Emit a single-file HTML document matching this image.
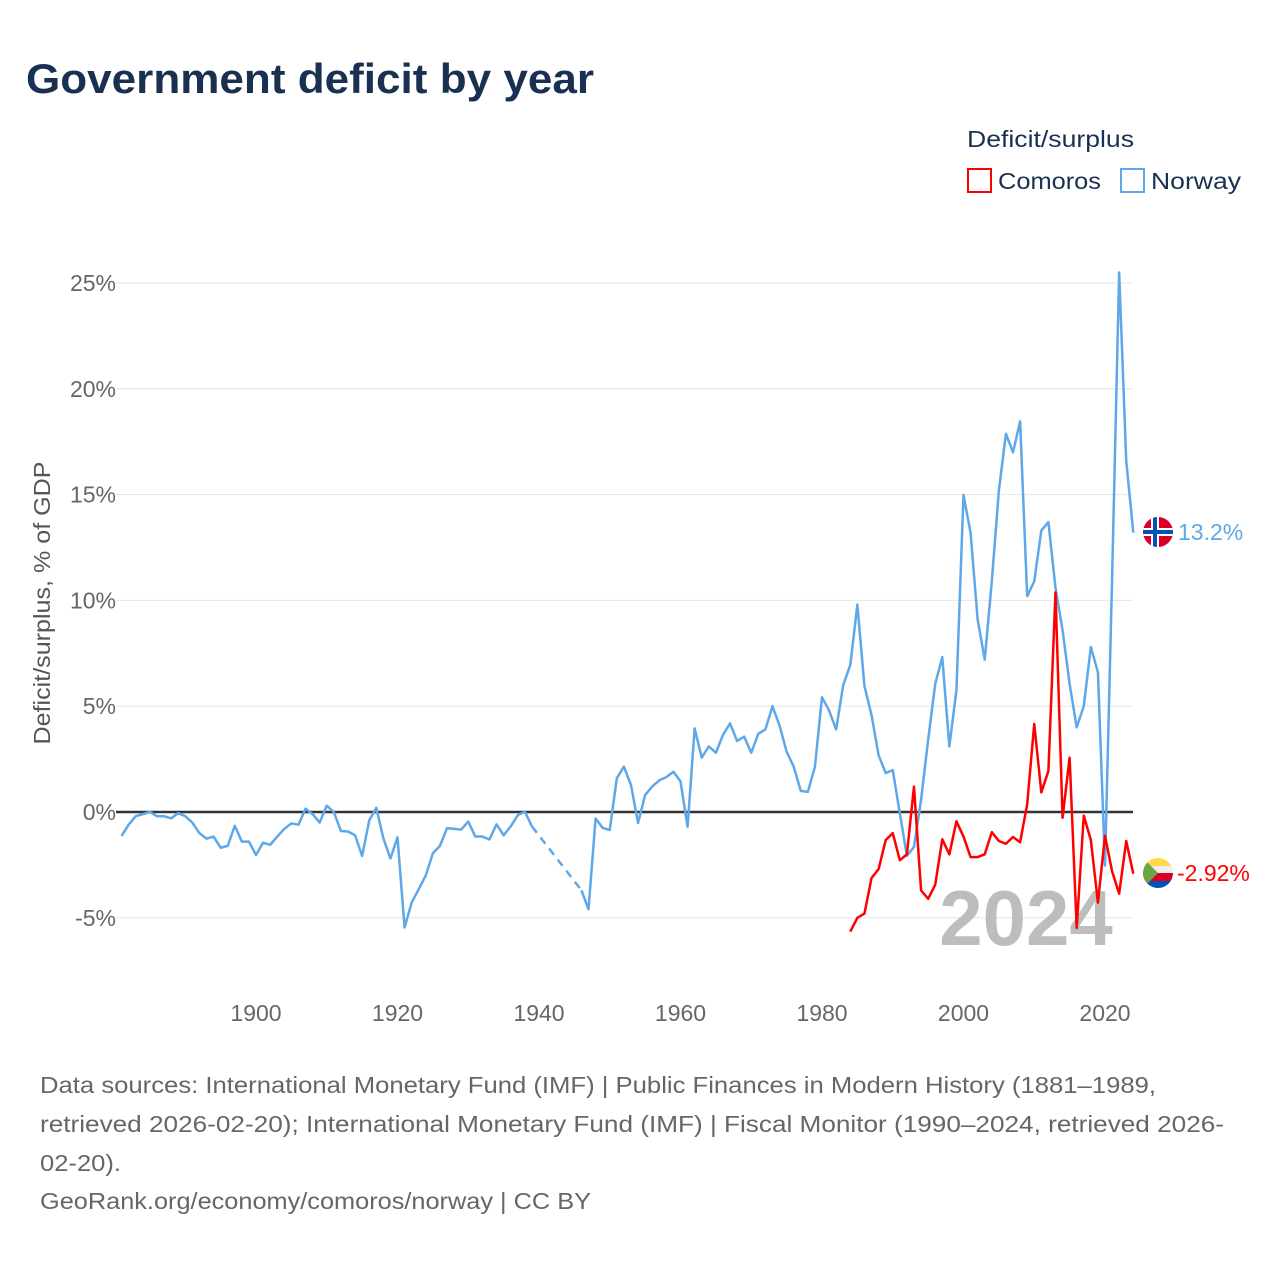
<!DOCTYPE html>
<html><head><meta charset="utf-8"><style>
body{margin:0;background:#fff;}
svg{display:block;font-family:"Liberation Sans",sans-serif;}
</style></head><body>
<svg id="chart" width="1280" height="1280" viewBox="0 0 1280 1280">
<text x="26" y="93" font-size="42" font-weight="bold" fill="#1a3050" textLength="568" lengthAdjust="spacingAndGlyphs">Government deficit by year</text>
<g>
<text x="967" y="147" font-size="23" fill="#1a3050" textLength="167" lengthAdjust="spacingAndGlyphs">Deficit/surplus</text>
<g><rect x="968" y="169" width="23" height="23" fill="none" stroke="#f00" stroke-width="2"/><text x="998" y="189" font-size="23" fill="#1a3050" textLength="103" lengthAdjust="spacingAndGlyphs">Comoros</text></g>
<g><rect x="1121" y="169" width="23" height="23" fill="none" stroke="#5ea8ea" stroke-width="2"/><text x="1151" y="189" font-size="23" fill="#1a3050" textLength="90" lengthAdjust="spacingAndGlyphs">Norway</text></g>
</g>
<g id="grid"></g>
<g id="yticks"></g>
<g id="xticks"></g>
<text transform="translate(50,603) rotate(-90)" text-anchor="middle" font-size="23" fill="#555" textLength="283" lengthAdjust="spacingAndGlyphs">Deficit/surplus, % of GDP</text>
<text x="1026" y="945" text-anchor="middle" font-size="78" font-weight="bold" fill="#bdbdbd">2024</text>
<g id="series"></g>
<g>
<clipPath id="cn"><circle cx="1158" cy="532" r="15"/></clipPath>
<g clip-path="url(#cn)"><rect x="1143" y="517" width="30" height="30" fill="#d80027"/><rect x="1143" y="528" width="30" height="8" fill="#fff"/><rect x="1151" y="517" width="8" height="30" fill="#fff"/><rect x="1143" y="530" width="30" height="4" fill="#0052b4"/><rect x="1153" y="517" width="4" height="30" fill="#0052b4"/></g>
<text x="1178" y="540" font-size="23" fill="#5ea8ea">13.2%</text>
</g>
<g>
<clipPath id="cc"><circle cx="1158" cy="873" r="15"/></clipPath>
<g clip-path="url(#cc)"><rect x="1143" y="858" width="30" height="8" fill="#ffda44"/><rect x="1143" y="866" width="30" height="7" fill="#eee"/><rect x="1143" y="873" width="30" height="8" fill="#d80027"/><rect x="1143" y="881" width="30" height="8" fill="#0052b4"/><polygon points="1143,858 1158,873 1143,888" fill="#6da544"/></g>
<text x="1177" y="881" font-size="23" fill="#f00">-2.92%</text>
</g>
<g font-size="23" fill="#666">
<text x="40" y="1093" textLength="1116" lengthAdjust="spacingAndGlyphs">Data sources: International Monetary Fund (IMF) | Public Finances in Modern History (1881–1989,</text>
<text x="40" y="1132" textLength="1184" lengthAdjust="spacingAndGlyphs">retrieved 2026-02-20); International Monetary Fund (IMF) | Fiscal Monitor (1990–2024, retrieved 2026-</text>
<text x="40" y="1171" textLength="81" lengthAdjust="spacingAndGlyphs">02-20).</text>
<text x="40" y="1209" textLength="551" lengthAdjust="spacingAndGlyphs">GeoRank.org/economy/comoros/norway | CC BY</text>
</g>
</svg>
<script>
const yTicks=[-5,0,5,10,15,20,25];
const xTicks=[1900,1920,1940,1960,1980,2000,2020];
const norwayYears=[];for(let y=1881;y<=2024;y++)norwayYears.push(y);
const norwayValues=[-1.13,-0.6,-0.2,-0.1,0,-0.2,-0.2,-0.3,-0.05,-0.2,-0.5,-1.0,-1.26,-1.16,-1.69,-1.6,-0.65,-1.4,-1.4,
-2.03,-1.45,-1.55,-1.16,-0.8,-0.54,-0.6,0.16,-0.1,-0.5,0.3,0,-0.9,-0.92,-1.1,-2.08,-0.4,0.2,-1.24,-2.2,
-1.2,-5.46,-4.28,-3.65,-3.0,-1.95,-1.6,-0.76,-0.8,-0.83,-0.45,-1.16,-1.16,-1.3,-0.58,-1.1,-0.68,-0.15,0.02,-0.68,
null,null,null,null,null,null,-3.7,-4.6,-0.3,-0.75,
-0.85,1.6,2.14,1.28,-0.52,0.8,1.2,1.5,1.65,1.9,1.45,-0.7,3.95,2.57,3.1,2.8,3.64,4.19,3.36,3.56,
2.8,3.7,3.9,5.0,4.08,2.85,2.14,1.0,0.95,2.14,5.42,4.8,3.9,6.0,6.95,9.8,5.95,4.58,2.68,1.84,
1.98,-0.06,-2.07,-1.65,0.57,3.4,6.05,7.32,3.1,5.74,14.98,13.2,9.1,7.2,10.9,15.2,17.87,17.0,18.46,10.2,
10.9,13.3,13.7,10.6,8.6,6.05,4.0,5.0,7.8,6.6,-2.53,11.0,25.5,16.6,13.2];
const comorosYears=[];for(let y=1984;y<=2024;y++)comorosYears.push(y);
const comorosValues=[-5.65,-5.0,-4.8,-3.12,-2.7,-1.33,-1.0,-2.28,-2.0,1.2,-3.7,-4.1,-3.44,-1.29,-2.0,-0.44,
-1.16,-2.13,-2.13,-2.0,-0.95,-1.37,-1.5,-1.18,-1.43,0.36,4.16,0.93,1.94,10.38,-0.27,2.57,-5.48,-0.17,-1.33,-4.28,
-1.12,-2.8,-3.86,-1.37,-2.92];
const X=yr=>256+(yr-1900)*7.075;
const Y=v=>812-v*21.16;
const NS='http://www.w3.org/2000/svg';
function mk(tag,attrs,parent){const e=document.createElementNS(NS,tag);for(const k in attrs)e.setAttribute(k,attrs[k]);parent.appendChild(e);return e;}
const grid=document.getElementById('grid'),yt=document.getElementById('yticks'),xt=document.getElementById('xticks'),ser=document.getElementById('series');
yTicks.forEach(v=>{
  const l=mk('line',{x1:116,x2:1133,y1:Y(v),y2:Y(v),stroke:v===0?'#333':'#e6e6e6','stroke-width':v===0?2.5:1},grid);
  
  
  const t=mk('text',{x:116,y:Y(v)+8,'text-anchor':'end','font-size':23,fill:'#666'},yt);
  t.textContent=v+'%';
  
  
});
xTicks.forEach(yr=>{
  const t=mk('text',{x:X(yr),y:1021,'text-anchor':'middle','font-size':23,fill:'#666'},xt);
  t.textContent=yr;
  
  
});
function draw(years,vals,color,name){
  let segs=[],cur=[],lastPt=null,gaps=[];
  years.forEach((yr,i)=>{const v=vals[i];
    if(v===null){if(cur.length){segs.push(cur);cur=[];}return;}
    const p=[X(yr),Y(v)];
    if(!cur.length&&lastPt&&segs.length)gaps.push([lastPt,p]);
    cur.push(p);lastPt=p;});
  if(cur.length)segs.push(cur);
  segs.forEach(s=>{
    const p=mk('polyline',{points:s.map(q=>q.join(',')).join(' '),fill:'none',stroke:color,'stroke-width':2.5,'stroke-linejoin':'round'},ser);
    
    
  });
  gaps.forEach(g=>{
    const p=mk('line',{x1:g[0][0],y1:g[0][1],x2:g[1][0],y2:g[1][1],stroke:color,'stroke-width':2.5,'stroke-dasharray':'8,6'},ser);
    
    
  });
}
draw(norwayYears,norwayValues,'#5ea8ea','norway');
draw(comorosYears,comorosValues,'#ff0000','comoros');
</script>
</body></html>
